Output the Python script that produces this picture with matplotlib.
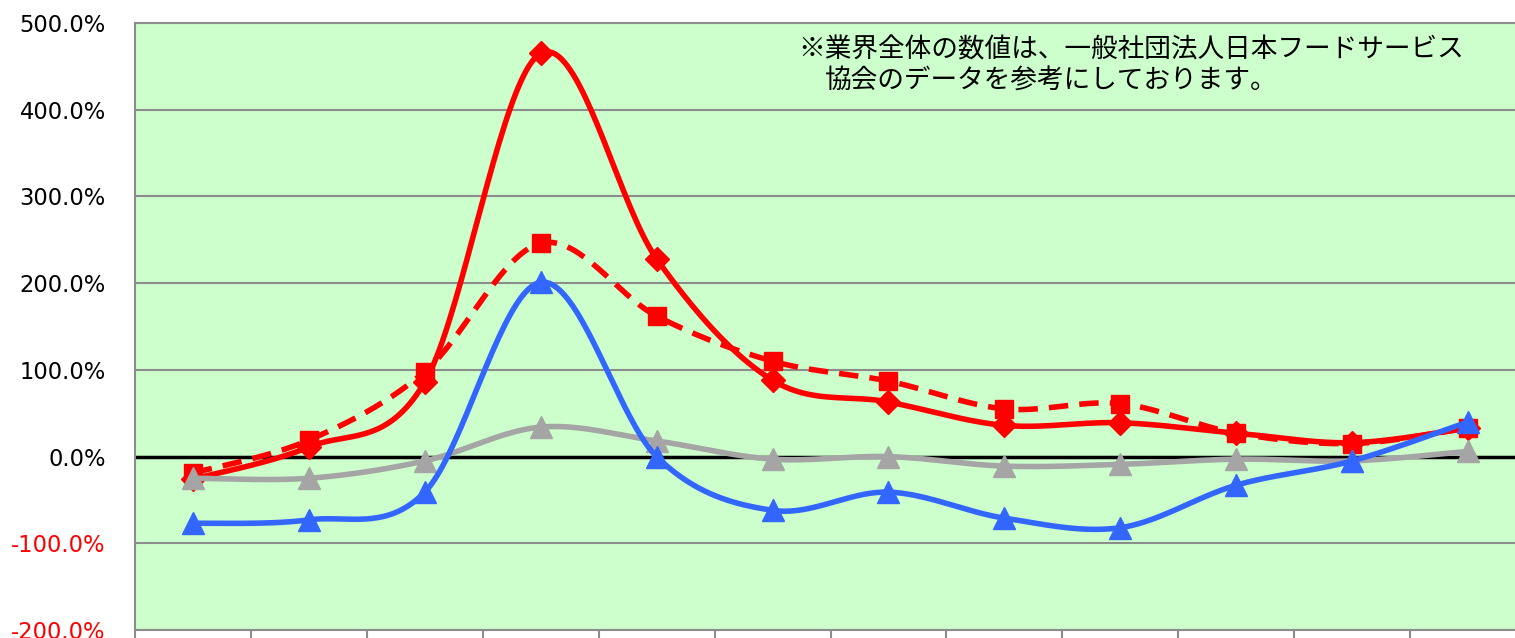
import numpy as np
import matplotlib
matplotlib.use("Agg")
import matplotlib.pyplot as plt
from matplotlib.ticker import FuncFormatter

plt.rcParams['font.family'] = ['DejaVu Sans']

# monthly year-over-year change (%), 12 periods
months = list(range(12))
sales_total = [-26, 11, 86, 465, 228, 88, 63, 36, 39, 27, 16, 33]
sales_existing = [-19, 19, 98, 246, 162, 110, 87, 55, 61, 27, 15, 33]
customers = [-77, -73, -41, 201, 0, -62, -41, -71, -82, -33, -5, 40]
industry = [-25, -25, -5, 34, 18, -3, 0, -11, -9, -3, -5, 6]

y_ticks = [-200, -100, 0, 100, 200, 300, 400, 500]
note_line1 = "※業界全体の数値は、一般社団法人日本フードサービス"
note_line2 = "協会のデータを参考にしております。"


def smooth(xs, ys, n=40):
    # cubic bezier through points, tangents like Catmull-Rom (spreadsheet "smoothed line")
    x = np.asarray(xs, float)
    y = np.asarray(ys, float)
    px = np.concatenate([[x[0]], x, [x[-1]]])
    py = np.concatenate([[y[0]], y, [y[-1]]])
    out_x, out_y = [], []
    t = np.linspace(0, 1, n)
    for i in range(1, len(px) - 2):
        p0x, p0y = px[i], py[i]
        p3x, p3y = px[i + 1], py[i + 1]
        c1x = p0x + (px[i + 1] - px[i - 1]) / 6
        c1y = p0y + (py[i + 1] - py[i - 1]) / 6
        c2x = p3x - (px[i + 2] - px[i]) / 6
        c2y = p3y - (py[i + 2] - py[i]) / 6
        bx = (1 - t) ** 3 * p0x + 3 * (1 - t) ** 2 * t * c1x + 3 * (1 - t) * t ** 2 * c2x + t ** 3 * p3x
        by = (1 - t) ** 3 * p0y + 3 * (1 - t) ** 2 * t * c1y + 3 * (1 - t) * t ** 2 * c2y + t ** 3 * p3y
        out_x.extend(bx)
        out_y.extend(by)
    return out_x, out_y


W, H = 1515, 638
fig = plt.figure(figsize=(W / 100, H / 100), dpi=100)
ax = fig.add_axes([135 / W, 8 / H, (1526 - 135) / W, (630 - 23) / H])
ax.set_facecolor('#CCFFCC')

grid_c = '#8C8C8C'
ax.set_xlim(-0.5, 11.5)
ax.set_ylim(-200, 500)
ax.set_yticks(y_ticks)
ax.yaxis.grid(True, color=grid_c, linewidth=1.5)
ax.set_axisbelow(True)
ax.axhline(0, color='black', linewidth=2.5, zorder=2)

for s in ax.spines.values():
    s.set_color(grid_c)
    s.set_linewidth(1.5)

ax.yaxis.set_major_formatter(FuncFormatter(lambda v, p: f"{v:.1f}%"))
ax.tick_params(axis='y', length=0, pad=21, labelsize=16.3)
for lab, v in zip(ax.get_yticklabels(), y_ticks):
    lab.set_color('red' if v < 0 else 'black')

ax.set_xticks(np.arange(-0.5, 12, 1))
ax.set_xticklabels([])
ax.tick_params(axis='x', direction='out', length=9, width=1.5, color=grid_c)

lw = 4.0
sx, sy = smooth(months, sales_existing)
ax.plot(sx, sy, color='red', linewidth=lw, dashes=(3.5, 2), zorder=3)
ax.plot(months, sales_existing, linestyle='none', marker='s', markersize=13, color='red', zorder=3)

sx, sy = smooth(months, sales_total)
ax.plot(sx, sy, color='red', linewidth=lw, zorder=4)
ax.plot(months, sales_total, linestyle='none', marker='D', markersize=12, color='red', zorder=4)

sx, sy = smooth(months, industry)
ax.plot(sx, sy, color='#A5A5A5', linewidth=lw, zorder=5)
ax.plot(months, industry, linestyle='none', marker='^', markersize=16, color='#A5A5A5', zorder=5)

sx, sy = smooth(months, customers)
ax.plot(sx, sy, color='#3366FF', linewidth=lw, zorder=6)
ax.plot(months, customers, linestyle='none', marker='^', markersize=16, color='#3366FF', zorder=6)

jp = ['Noto Sans CJK JP', 'DejaVu Sans']
fig.text(798 / W, 1 - 50 / H, note_line1, family=jp, fontsize=19.2, va='center', ha='left')
fig.text(825 / W, 1 - 81 / H, note_line2, family=jp, fontsize=19.2, va='center', ha='left')

fig.savefig('out.png', dpi=100)
